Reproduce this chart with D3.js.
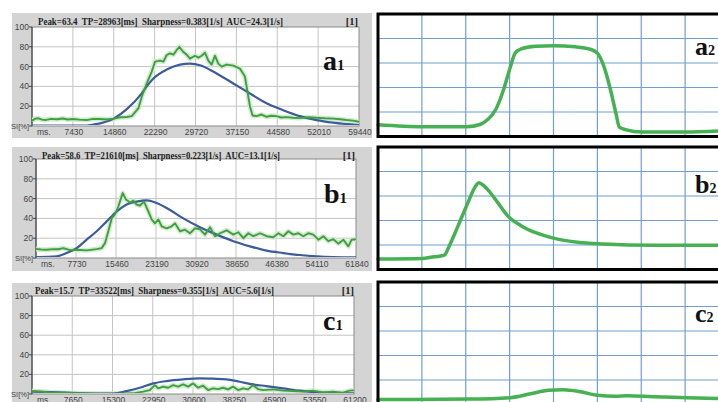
<!DOCTYPE html>
<html><head><meta charset="utf-8">
<script src="https://cdn.jsdelivr.net/npm/d3@7"></script>
<style>body{margin:0;background:#fff}svg{display:block}</style>
</head><body>
<svg id="c" width="718" height="402"></svg>
<script>
// ---------- DATA ----------
// left panels: [time ms, SI %]
const a1Green = [[0,5.4],[600,7.5],[1203,7.8],[1800,6.5],[2413,6.0],[3400,7.2],[4530,6.8],[5600,7.6],[6500,6.6],[7433,7.0],[8600,6.4],[9973,6.0],[11100,7.2],[12392,7.0],[13600,6.5],[14933,7.4],[16021,8.8],[17231,9.1],[18138,10],[18743,14],[19347,18],[19953,29.6],[20860,43],[21767,55],[22371,65],[23279,66],[23883,65],[24489,71.7],[25093,73.4],[25697,72],[26303,76.8],[26786,80],[27392,75.5],[28117,72],[28722,68],[29629,71],[30234,69],[30839,71],[31444,74],[32048,66],[32654,62],[33258,71],[33862,63],[34468,60],[35375,62],[36584,61],[37794,58],[38701,50],[39124,36],[39608,20],[40093,10.6],[40818,10],[41726,11.6],[42633,9.3],[43500,10.4],[44447,10],[45300,8.6],[46262,9],[47400,8.4],[48681,8],[50200,8.8],[51705,8.4],[53200,7.8],[54728,7.4],[56000,6.8],[57148,6],[58300,5.4],[59440,4.3]];
const a1Blue = [[0,0.3],[9368,0.3],[11182,1.5],[12392,2.7],[14933,7.7],[17231,17],[19953,33],[21000,41],[22069,48],[24489,57],[26907,62],[28722,63],[30537,61.4],[33561,53],[36584,43],[39004,35],[42633,23],[45656,16],[48681,10],[51705,6],[54728,3.4],[59440,1]];

const b1Green = [[0,9.1],[1000,8.6],[2062,8.4],[3350,9],[4300,8.8],[5282,10],[6571,8],[7859,8.4],[9791,7.7],[11724,9],[12690,10],[13334,15],[13978,27],[14622,40],[15267,44],[15911,52],[16748,65.6],[17393,59],[18166,56],[18810,58],[19454,54],[20098,53],[20871,57],[21708,47],[22353,39],[22997,35],[23641,39],[24285,32],[25252,30],[26218,32],[26862,35],[27828,27],[28794,28.6],[29761,25],[30727,30],[31693,29],[32659,23.6],[33626,31],[34592,21.9],[35558,25],[36847,28],[38134,23.6],[39101,26],[40067,20],[41033,25],[42000,22],[43288,25],[44577,22],[45864,21],[46830,25],[47797,22],[48763,27],[49729,23.6],[50695,25],[51662,22],[52628,25],[53594,23.6],[54561,18.5],[55527,22],[56493,17],[57459,19],[58426,14.5],[59392,18.5],[60358,11.8],[61003,18.5],[61840,19]];
const b1Blue = [[0,1],[3994,1.7],[5927,5],[7859,10],[9791,18.5],[11724,27],[13656,37],[15589,47],[17522,54],[19454,57],[21387,58.3],[23319,55.6],[25252,50.5],[28472,40],[31693,31],[34914,23.6],[38134,17],[41355,11.8],[44577,7.4],[47797,5],[51018,3],[54239,1.7],[57459,1],[61840,0.7]];

const c1Green = [[0,3],[3417,1.7],[6581,1],[12908,0.3],[16072,0.3],[19236,0.7],[21134,2.4],[22400,4],[23349,9],[23982,5.8],[24930,7.5],[25880,6.4],[26829,9],[27778,7.5],[28727,9.8],[29676,7.5],[30625,10.8],[31574,6.4],[32524,8.5],[33473,4],[34422,5.8],[35371,5],[36320,6.4],[37269,4.7],[38218,7.5],[39168,4],[40117,5.8],[41066,4.7],[42015,9],[42964,5],[43913,4],[45811,4.7],[47710,3.4],[49608,3],[51506,2.4],[53404,3.4],[55303,1.7],[57201,2.4],[59100,1.4],[60366,3.4],[61200,3.7]];
const c1Blue = [[0,2.4],[6581,1.4],[12908,0.3],[15439,0.5],[17971,3],[20502,6.4],[23032,10.8],[25564,13.2],[28727,15],[31891,16],[34422,15.6],[36954,15],[39485,12.5],[42015,9.8],[44547,8.1],[47710,5.8],[50874,3.4],[54038,1.7],[57201,1],[61200,0.7]];

// right panels: [grid column, grid row]
const a2Curve = [[0,0.48],[1.02,0.4],[2.02,0.4],[2.34,0.5],[2.5,0.69],[2.68,1.09],[2.86,1.9],[3.02,2.86],[3.12,3.38],[3.25,3.57],[3.6,3.68],[4.0,3.7],[4.5,3.66],[4.84,3.56],[5.0,3.4],[5.14,2.9],[5.3,1.9],[5.43,0.89],[5.5,0.38],[5.64,0.28],[6.02,0.18],[7.0,0.18],[7.75,0.22]];
const b2Curve = [[0,0.43],[1.02,0.45],[1.2,0.5],[1.43,0.55],[1.52,0.59],[1.59,0.83],[1.82,1.76],[2.05,2.73],[2.18,3.26],[2.3,3.54],[2.41,3.42],[2.5,3.26],[2.73,2.73],[2.95,2.2],[3.25,1.8],[3.64,1.47],[4.0,1.28],[4.55,1.11],[5.14,1.04],[6.27,0.99],[7.75,0.99]];
const c2Curve = [[0,0.2],[2.1,0.22],[3.02,0.28],[3.48,0.44],[3.89,0.58],[4.23,0.6],[4.61,0.52],[5.0,0.38],[5.41,0.34],[5.68,0.36],[6.27,0.32],[7.05,0.28],[7.75,0.24]];

const a1Ticks = [7430,14860,22290,29720,37150,44580,52010,59440];
const b1Ticks = [7730,15460,23190,30920,38650,46380,54110,61840];
const c1Ticks = [7650,15300,22950,30600,38250,45900,53550,61200];
const yTicks = [0,20,40,60,80,100];

const titles = [
  "Peak=63.4  TP=28963[ms]  Sharpness=0.383[1/s]  AUC=24.3[1/s]",
  "Peak=58.6  TP=21610[ms]  Sharpness=0.223[1/s]  AUC=13.1[1/s]",
  "Peak=15.7  TP=33522[ms]  Sharpness=0.355[1/s]  AUC=5.6[1/s]"
];

// ---------- LAYOUT ----------
const leftPanels = [
  {grey:[12,13,360,125], plot:[32,27,359,126], ticks:a1Ticks, title:titles[0], tx:[38,283], ty:25, one:358, lab:"a", lx:323, ly:70, green:a1Green, blue:a1Blue},
  {grey:[12,147,360,124], plot:[36,159,356,258], ticks:b1Ticks, title:titles[1], tx:[42,280], ty:158.5, one:355, lab:"b", lx:324, ly:203, green:b1Green, blue:b1Blue},
  {grey:[12,283,360,130], plot:[32,296,354,394], ticks:c1Ticks, title:titles[2], tx:[35,274], ty:293.5, one:354, lab:"c", lx:323, ly:330, green:c1Green, blue:c1Blue}
];
const rightPanels = [
  {top:14, curve:a2Curve, lab:"a", ly:55},
  {top:147, curve:b2Curve, lab:"b", ly:193},
  {top:282, curve:c2Curve, lab:"c", ly:322}
];

const svg = d3.select("#c");
const defs = svg.append("defs");
const SANS = "Liberation Sans, Arial, sans-serif";
const SERIF = "Liberation Serif, Times New Roman, serif";

leftPanels.forEach((p, i) => {
  const g = svg.append("g");
  const [gx, gy, gw, gh] = p.grey;
  g.append("rect").attr("x", gx).attr("y", gy).attr("width", gw).attr("height", gh).attr("fill", "#d4d4d4");
  const [x0, y0, x1, y1] = p.plot;
  const xMax = p.ticks[p.ticks.length - 1];
  const x = d3.scaleLinear().domain([0, xMax]).range([x0, x1]);
  const y = d3.scaleLinear().domain([0, 100]).range([y1, y0]);
  g.append("rect").attr("x", x0).attr("y", y0).attr("width", x1 - x0).attr("height", y1 - y0).attr("fill", "#fff");
  g.selectAll(".vg").data(p.ticks.slice(0, -1)).join("line")
    .attr("x1", d => x(d)).attr("x2", d => x(d)).attr("y1", y0).attr("y2", y1)
    .attr("stroke", "#c4c4c4").attr("stroke-width", 1);
  g.selectAll(".hg").data([20, 40, 60, 80]).join("line")
    .attr("x1", x0).attr("x2", x1).attr("y1", d => y(d)).attr("y2", d => y(d))
    .attr("stroke", "#c4c4c4").attr("stroke-width", 1);
  g.append("rect").attr("x", x0).attr("y", y0).attr("width", x1 - x0).attr("height", y1 - y0)
    .attr("fill", "none").attr("stroke", "#8a8a8a").attr("stroke-width", 1);
  g.append("line").attr("x1", x0).attr("x2", x0).attr("y1", y0).attr("y2", y1).attr("stroke", "#333").attr("stroke-width", 1);
  g.selectAll(".yt").data(yTicks).join("line")
    .attr("x1", x0 - 3).attr("x2", x0).attr("y1", d => y(d)).attr("y2", d => y(d)).attr("stroke", "#444");
  g.selectAll(".yl").data(yTicks).join("text")
    .attr("x", x0 - 3).attr("y", d => y(d) + 3).attr("text-anchor", "end")
    .attr("font-family", SANS).attr("font-size", d => d === 0 ? 7.5 : 8.5)
    .attr("fill", "#444").text(d => d === 0 ? "SI[%]" : d);
  g.append("text").attr("x", x0 + 5).attr("y", y1 + 9).attr("font-family", SANS)
    .attr("font-size", 8.5).attr("fill", "#444").text("ms.");
  g.selectAll(".xl").data(p.ticks).join("text")
    .attr("x", d => x(d) + 1).attr("y", y1 + 9).attr("text-anchor", "middle")
    .attr("font-family", SANS).attr("font-size", 8.5).attr("fill", "#444").text(d => d);
  const cid = "clip" + i;
  defs.append("clipPath").attr("id", cid).append("rect").attr("x", x0).attr("y", y0 - 2).attr("width", x1 - x0).attr("height", y1 - y0 + 1);
  const lg = g.append("g").attr("clip-path", `url(#${cid})`);
  const rawLine = d3.line().x(d => x(d[0])).y(d => y(d[1]));
  const fitLine = d3.line().x(d => x(d[0])).y(d => y(d[1])).curve(d3.curveMonotoneX);
  lg.append("path").datum(p.green).attr("d", rawLine).attr("fill", "none").attr("stroke", "#d3ebd0").attr("stroke-width", 5).attr("stroke-linejoin", "round");
  lg.append("path").datum(p.blue).attr("d", fitLine).attr("fill", "none").attr("stroke", "#3c5c9c").attr("stroke-width", 2.2);
  lg.append("path").datum(p.green).attr("d", rawLine).attr("fill", "none").attr("stroke", "#3f9f3f").attr("stroke-width", 1.9).attr("stroke-linejoin", "round");
  g.append("text").attr("x", p.tx[0]).attr("y", p.ty).attr("font-family", SERIF)
    .attr("font-weight", "bold").attr("font-size", 11).attr("fill", "#222")
    .attr("textLength", p.tx[1] - p.tx[0]).attr("lengthAdjust", "spacingAndGlyphs").attr("xml:space", "preserve").text(p.title);
  g.append("text").attr("x", p.one).attr("y", p.ty).attr("text-anchor", "end").attr("font-family", SERIF)
    .attr("font-weight", "bold").attr("font-size", 10.5).attr("fill", "#222").text("[1]");
  const t = g.append("text").attr("x", p.lx).attr("y", p.ly).attr("font-family", SERIF)
    .attr("font-weight", "bold").attr("fill", "#111");
  t.append("tspan").attr("font-size", 28).text(p.lab);
  t.append("tspan").attr("font-size", 15).text("1");
});

rightPanels.forEach(p => {
  const g = svg.append("g");
  const x = d3.scaleLinear().domain([0, 8]).range([378, 729]);
  const y = d3.scaleLinear().domain([0, 5]).range([p.top + 122.5, p.top]);
  g.append("rect").attr("x", 378).attr("y", p.top).attr("width", 351).attr("height", 122.5).attr("fill", "#fff");
  g.selectAll(".v").data(d3.range(1, 8)).join("line")
    .attr("x1", d => x(d)).attr("x2", d => x(d)).attr("y1", p.top).attr("y2", p.top + 122.5)
    .attr("stroke", "#6f9fd3").attr("stroke-width", 1.2);
  g.selectAll(".h").data(d3.range(1, 5)).join("line")
    .attr("x1", 378).attr("x2", 729).attr("y1", d => y(d)).attr("y2", d => y(d))
    .attr("stroke", "#6f9fd3").attr("stroke-width", 1.2);
  g.append("path").datum(p.curve)
    .attr("d", d3.line().x(d => x(d[0])).y(d => y(d[1])).curve(d3.curveMonotoneX))
    .attr("fill", "none").attr("stroke", "#46b152").attr("stroke-width", 3.5).attr("stroke-linecap", "round").attr("stroke-linejoin", "round");
  g.append("rect").attr("x", 378).attr("y", p.top).attr("width", 351).attr("height", 122.5)
    .attr("fill", "none").attr("stroke", "#000").attr("stroke-width", 3);
  const t = g.append("text").attr("x", 695).attr("y", p.ly).attr("font-family", SERIF)
    .attr("font-weight", "bold").attr("fill", "#111");
  t.append("tspan").attr("font-size", 26).text(p.lab);
  t.append("tspan").attr("font-size", 14).text("2");
});
</script>
</body></html>
